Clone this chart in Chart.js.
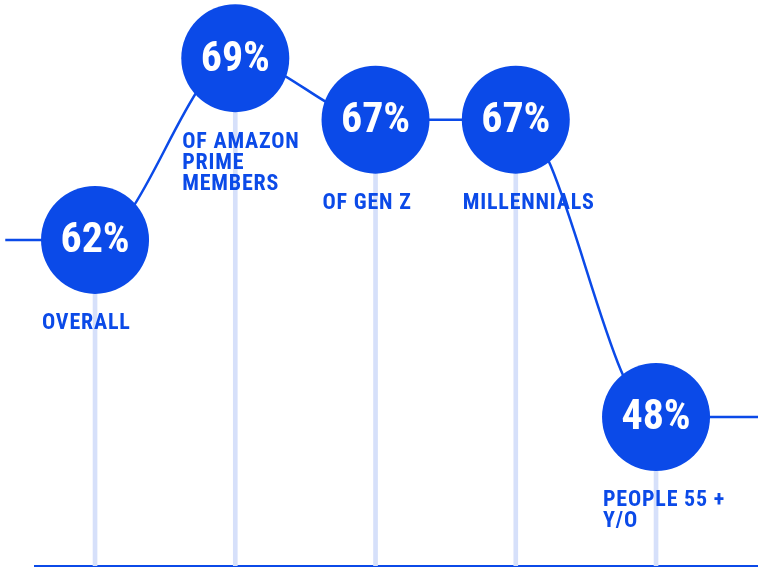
<!DOCTYPE html>
<html>
<head>
<meta charset="utf-8">
<script src="https://cdn.jsdelivr.net/npm/chart.js@4"></script>
<style>
  html, body { margin: 0; padding: 0; background: #fff; }
  #wrap { width: 758px; height: 567px; }
</style>
</head>
<body>
<div id="wrap"><canvas id="myChart"></canvas></div>
<script>
// Datos del gráfico
var categories = ['OVERALL', 'OF AMAZON\nPRIME\nMEMBERS', 'OF GEN Z', 'MILLENNIALS', 'PEOPLE 55 +\nY/O'];
var shares = [62, 69, 67, 67, 48];

var blue = '#0b4ae8';
var paleBlue = '#d6e0fa';
var fontStack = '"Roboto Condensed", "Liberation Sans Narrow", "DejaVu Sans Condensed", sans-serif';

// Escala vertical exponencial (la infografía comprime los valores bajos)
var K = 14, KNEE = 40;
function warp(v) {
    if (v >= KNEE) return Math.exp(v / K);
    return Math.exp(KNEE / K) * (1 + (v - KNEE) / K);
}
class ExpScale extends Chart.LinearScale {
    getPixelForValue(value) {
        if (value === null) return NaN;
        var t = (warp(value) - warp(this.min)) / (warp(this.max) - warp(this.min));
        return this.getPixelForDecimal(t);
    }
}
ExpScale.id = 'exp';
ExpScale.defaults = Chart.LinearScale.defaults;
Chart.register(ExpScale);

// línea: entra por la izquierda y sale por la derecha
var linePoints = [{ x: -0.64, y: shares[0] }];
var radii = [0];
for (var i = 0; i < shares.length; i++) {
    linePoints.push({ x: i, y: shares[i] });
    radii.push(54);
}
linePoints.push({ x: 5.2, y: shares[shares.length - 1] });
radii.push(0);

var stems = shares.map(function(v, i) { return { x: i, y: v }; });

var labelPlugin = {
    id: 'circleLabels',
    afterDatasetsDraw: function(chart) {
        var meta = chart.getDatasetMeta(0);
        var ctx = chart.ctx;
        ctx.save();
        for (var i = 0; i < shares.length; i++) {
            var pt = meta.data[i + 1];
            var r = pt.options.radius;
            ctx.fillStyle = '#fff';
            ctx.font = 'bold 42px ' + fontStack;
            ctx.letterSpacing = '0px';
            ctx.textAlign = 'center';
            ctx.textBaseline = 'middle';
            ctx.fillText(shares[i] + '%', pt.x, pt.y + 2);

            ctx.fillStyle = blue;
            ctx.font = 'bold 22px ' + fontStack;
            ctx.letterSpacing = '0.8px';
            ctx.textAlign = 'left';
            ctx.textBaseline = 'top';
            var lines = categories[i].split('\n');
            for (var j = 0; j < lines.length; j++) {
                ctx.fillText(lines[j], pt.x - r + 1, pt.y + r + 19 + j * 21);
            }
        }
        ctx.restore();
    }
};

const ctx = document.getElementById('myChart').getContext('2d');
window.myChart = new Chart(ctx, {
    type: 'line',
    data: {
        datasets: [{
            type: 'line',
            data: linePoints,
            borderColor: blue,
            borderWidth: 2.5,
            cubicInterpolationMode: 'monotone',
            pointRadius: radii,
            pointBackgroundColor: blue,
            pointBorderWidth: 0,
            clip: false,
            order: 0
        }, {
            type: 'bar',
            data: stems,
            backgroundColor: paleBlue,
            barThickness: 4,
            order: 1
        }]
    },
    options: {
        responsive: true,
        maintainAspectRatio: false,
        animation: false,
        events: [],
        layout: { padding: { left: 35, right: 0, top: 0, bottom: 1 } },
        plugins: { legend: { display: false }, tooltip: { enabled: false } },
        scales: {
            x: {
                type: 'linear',
                min: -0.428,
                max: 4.727,
                offset: false,
                grid: { display: false, drawTicks: false, offset: false },
                ticks: { display: false },
                border: { display: true, color: blue, width: 2 }
            },
            y: {
                type: 'exp',
                min: 14.95,
                max: 70.66,
                display: false
            }
        }
    },
    plugins: [labelPlugin]
});
</script>
</body>
</html>
